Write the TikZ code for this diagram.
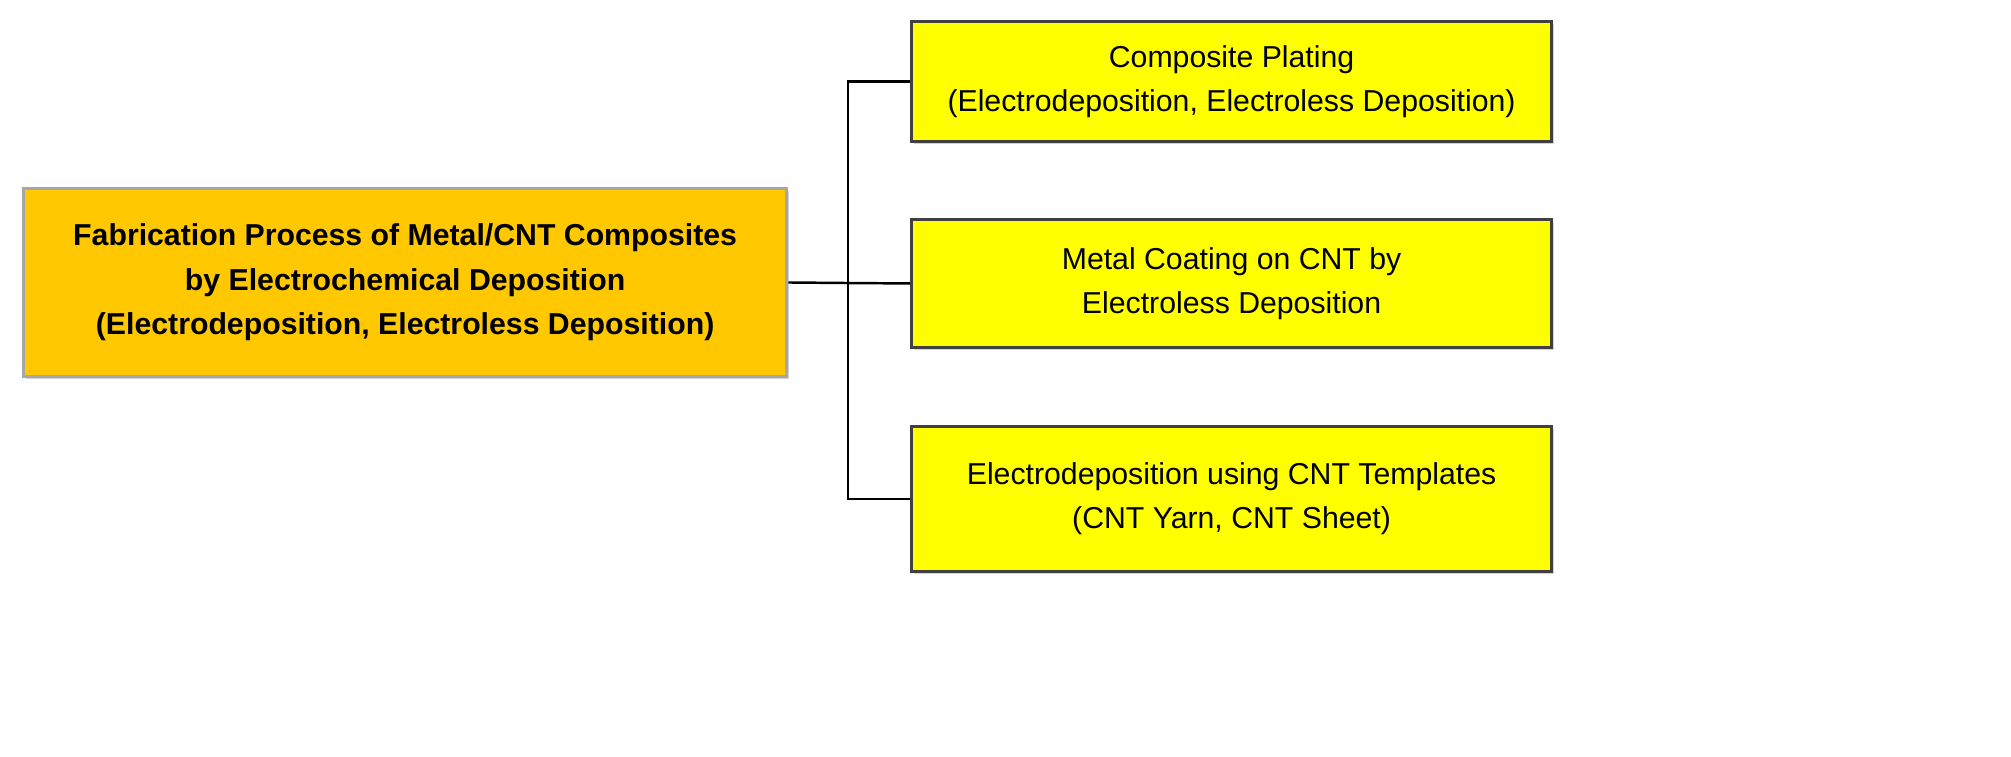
\documentclass[tikz,border=0pt]{standalone}
\usepackage{fontspec}
\setmainfont{Liberation Sans}
\usetikzlibrary{shadows}
\begin{document}
\begin{tikzpicture}[x=0.01cm,y=-0.01cm,
  box/.style={draw=black!75,line width=0.8pt,align=center,inner sep=0pt,anchor=north west,
    font=\fontsize{8.6pt}{12.6pt}\selectfont,drop shadow={shadow xshift=0.7pt,shadow yshift=-0.7pt,opacity=0.35}},
  sub/.style={box,fill={rgb,255:red,255;green,255;blue,0},minimum width=6.4cm},
  conn/.style={line width=0.7pt,black}]
\useasboundingbox (0,0) rectangle (2011,756);
\node[box,fill={rgb,255:red,255;green,200;blue,0},draw=black!35,minimum width=7.63cm,minimum height=1.88cm,
  font=\fontsize{8.6pt}{12.6pt}\selectfont\bfseries] (main) at (22,187)
  {Fabrication Process of Metal/CNT Composites\\by Electrochemical Deposition\\(Electrodeposition, Electroless Deposition)};
\node[sub,minimum height=1.2cm] (a) at (910,20) {Composite Plating\\(Electrodeposition, Electroless Deposition)};
\node[sub,minimum height=1.28cm] (b) at (910,218) {Metal Coating on CNT by\\Electroless Deposition};
\node[sub,minimum height=1.45cm] (c) at (910,425) {Electrodeposition using CNT Templates\\(CNT Yarn, CNT Sheet)};
\coordinate (j) at (848,283);
\draw[conn] (main.east) -- (j) -- (b.west);
\draw[conn] (a.west) -| (j) |- (c.west);
\end{tikzpicture}
\end{document}
